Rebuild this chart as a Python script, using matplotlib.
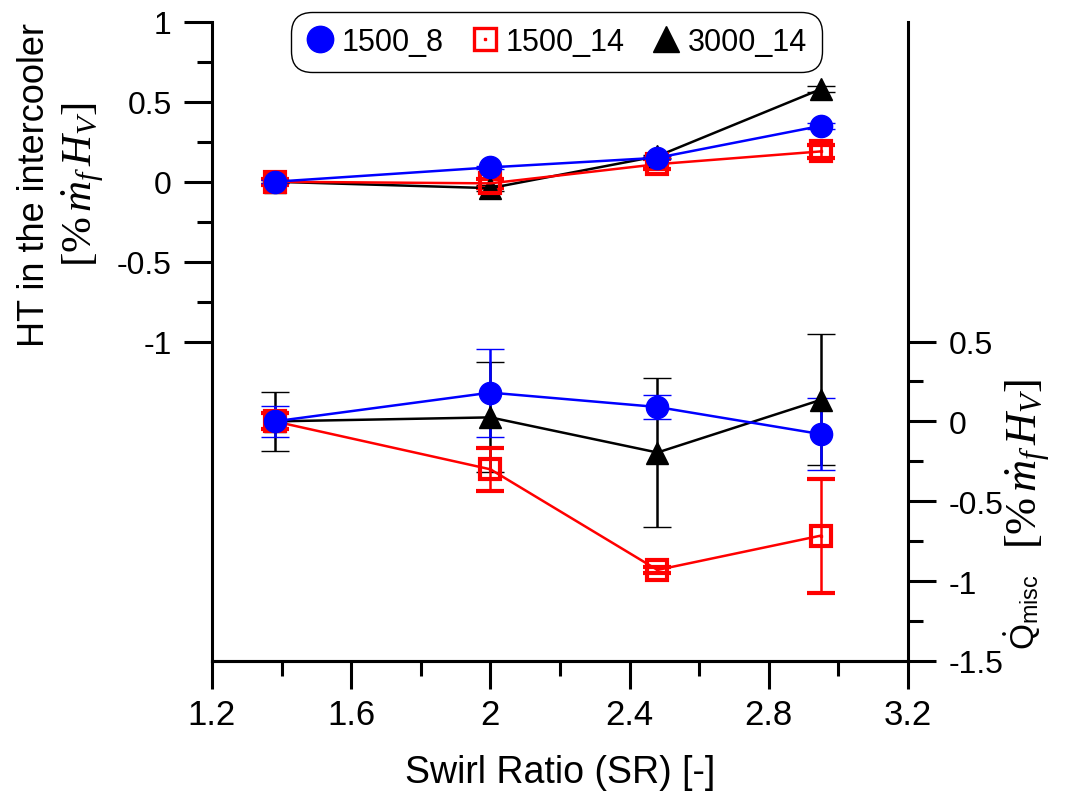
import numpy as np
import matplotlib
matplotlib.use('Agg')
import matplotlib.pyplot as plt
from matplotlib.ticker import FixedLocator, FuncFormatter
from matplotlib.lines import Line2D
from matplotlib.legend_handler import HandlerTuple

plt.rcParams['font.family'] = ['Liberation Sans', 'DejaVu Sans']
plt.rcParams['mathtext.fontset'] = 'custom'
plt.rcParams['mathtext.rm'] = 'Liberation Serif'
plt.rcParams['mathtext.it'] = 'Liberation Serif:italic'
plt.rcParams['mathtext.sf'] = 'Liberation Sans'
plt.rcParams['axes.unicode_minus'] = False

# swirl ratio
sr = [1.38, 2.0, 2.48, 2.95]
series = ['1500_8', '1500_14', '3000_14']

# HT in the intercooler (left axis)
ht_1500_8 = [0.0, 0.09, 0.15, 0.35]
ht_1500_14 = [0.0, -0.01, 0.11, 0.19]
ht_3000_14 = [0.0, -0.04, 0.16, 0.58]
ht_err_1500_8 = [0.01, 0.01, 0.01, 0.02]
ht_err_1500_14 = [0.02, 0.03, 0.03, 0.04]
ht_err_3000_14 = [0.01, 0.02, 0.01, 0.02]

# Q_misc (right axis)
qm_1500_8 = [0.0, 0.18, 0.09, -0.08]
qm_1500_14 = [0.0, -0.30, -0.93, -0.715]
qm_3000_14 = [0.0, 0.025, -0.195, 0.135]
qm_err_1500_8 = [0.095, 0.275, 0.073, 0.225]
qm_err_1500_14 = [0.05, 0.135, 0.02, 0.357]
qm_err_3000_14 = [0.185, 0.345, 0.465, 0.41]

colors = {'1500_8': '#0000ff', '1500_14': '#ff0000', '3000_14': '#000000'}
markers = {'1500_8': 'o', '1500_14': 's', '3000_14': '^'}

W, H = 1077, 803
fig = plt.figure(figsize=(W / 100, H / 100), dpi=100)
ax = fig.add_axes([212 / W, 1 - 662 / H, (908 - 212) / W, (662 - 23) / H])
ax2 = ax.twinx()

lw = 1.8
ms = 16


def draw(a, y, err, name):
    c = colors[name]
    mk = markers[name]
    if mk == 's':
        kw = dict(mfc='none', mec=c, mew=3, ms=ms - 1.5)
    else:
        kw = dict(mfc=c, mec=c, mew=1, ms=ms)
    a.errorbar(sr, y, yerr=err, color=c, lw=lw, marker=mk, capsize=10,
               elinewidth=lw, capthick=lw, **kw)
    if mk == 's':
        a.plot(sr, y, ls='none', marker='s', ms=2, color=c)


draw(ax, ht_3000_14, ht_err_3000_14, '3000_14')
draw(ax, ht_1500_14, ht_err_1500_14, '1500_14')
draw(ax, ht_1500_8, ht_err_1500_8, '1500_8')

draw(ax2, qm_3000_14, qm_err_3000_14, '3000_14')
draw(ax2, qm_1500_14, qm_err_1500_14, '1500_14')
draw(ax2, qm_1500_8, qm_err_1500_8, '1500_8')

ax.set_xlim(1.2, 3.2)
ax.set_ylim(-3, 1)
ax2.set_ylim(-1.5, 2.5)

fmt = FuncFormatter(lambda v, p: '%g' % round(v, 2))
ax.xaxis.set_major_locator(FixedLocator([1.2, 1.6, 2.0, 2.4, 2.8, 3.2]))
ax.xaxis.set_minor_locator(FixedLocator([1.4, 1.8, 2.2, 2.6, 3.0]))
ax.yaxis.set_major_locator(FixedLocator([-1, -0.5, 0, 0.5, 1]))
ax.yaxis.set_minor_locator(FixedLocator([-0.75, -0.25, 0.25, 0.75]))
ax2.yaxis.set_major_locator(FixedLocator([-1.5, -1, -0.5, 0, 0.5]))
ax2.yaxis.set_minor_locator(FixedLocator([-1.25, -0.75, -0.25, 0.25]))
for a in (ax, ax2):
    a.xaxis.set_major_formatter(fmt)
    a.yaxis.set_major_formatter(fmt)
    a.tick_params(which='major', direction='out', length=20, width=2.2,
                  labelsize=23, pad=9)
    a.tick_params(which='minor', direction='out', length=11, width=2.2)
    for sp in a.spines.values():
        sp.set_linewidth(2.2)
    a.spines['top'].set_visible(False)
ax.spines['right'].set_visible(False)
ax2.spines['left'].set_visible(False)
ax.tick_params(axis='x', labelsize=25, pad=7)

ax.set_xlabel('Swirl Ratio (SR) [-]', fontsize=27, labelpad=16)

fig.text(35 / W, 1 - 185 / H, 'HT in the intercooler', rotation=90,
         ha='center', va='center', fontsize=26)
fig.text(82 / W, 1 - 185 / H, r'$[\%\,\dot{m}_f\,H_V]$', rotation=90,
         ha='center', va='center', fontsize=31)
fig.text(1022 / W, 1 - 612 / H, r'$\dot{\mathsf{Q}}_{\mathsf{misc}}$',
         rotation=90, ha='center', va='center', fontsize=24)
fig.text(1028 / W, 1 - 464 / H, r'$[\%\,\dot{m}_f\,H_V]$', rotation=90,
         ha='center', va='center', fontsize=32)

handles = []
for name in series:
    c = colors[name]
    if markers[name] == 's':
        h1 = Line2D([], [], ls='none', marker='s', ms=ms, mfc='none',
                    mec=c, mew=2.4)
        h2 = Line2D([], [], ls='none', marker='s', ms=2, color=c)
        handles.append((h1, h2))
    else:
        handles.append(Line2D([], [], ls='none', marker=markers[name],
                              ms=ms + 3, color=c))
leg = ax2.legend(handles, series, loc='upper center',
                 bbox_to_anchor=(0.495, 1.016), ncol=3,
                 prop={'size': 22},
                 handler_map={tuple: HandlerTuple(ndivide=1)},
                 handlelength=0.9, handletextpad=0.25, columnspacing=0.9,
                 borderpad=0.5, borderaxespad=0, fancybox=True,
                 framealpha=1, edgecolor='black')
leg.get_frame().set_linewidth(1.0)
leg.get_frame().set_boxstyle('round,pad=0,rounding_size=0.7')

fig.savefig('out.png', dpi=100, facecolor='white')
